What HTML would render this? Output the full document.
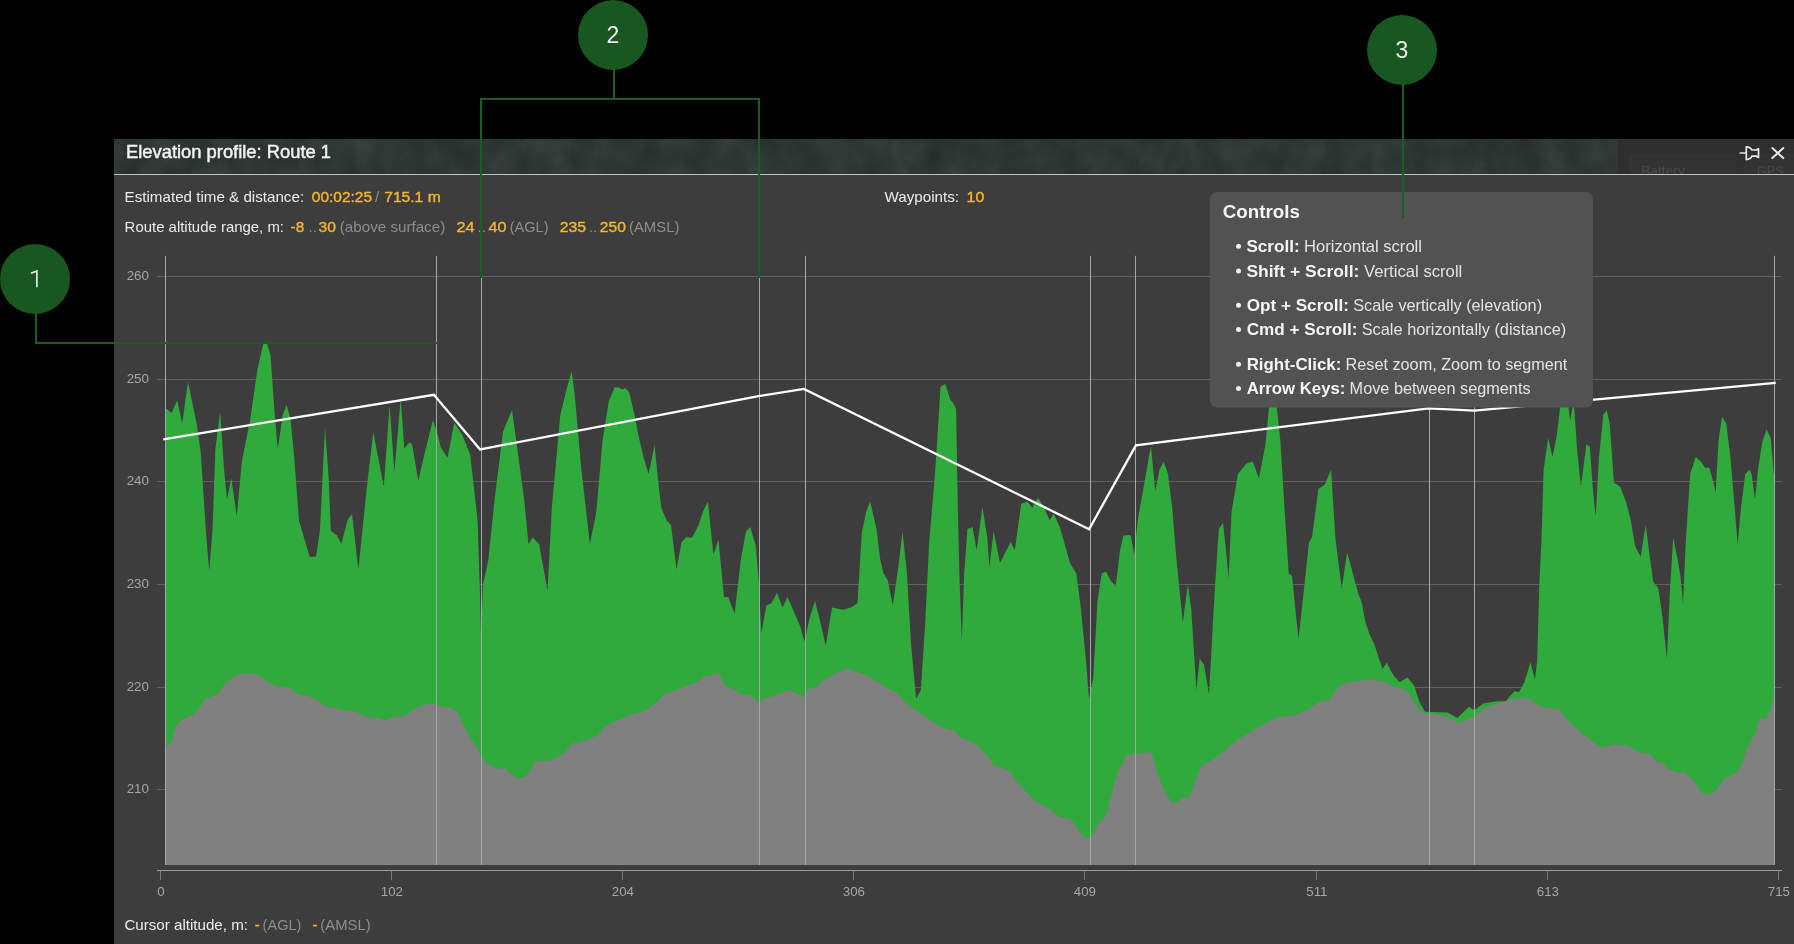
<!DOCTYPE html>
<html><head><meta charset="utf-8"><style>
html,body{margin:0;padding:0;background:#000;}
body{width:1794px;height:944px;overflow:hidden;position:relative;font-family:"Liberation Sans",sans-serif;}
svg{position:absolute;left:0;top:0;will-change:transform;}
</style></head><body>
<svg width="1794" height="944" viewBox="0 0 1794 944" font-family="Liberation Sans, sans-serif">
<defs>
<filter id="tex" x="0" y="0" width="100%" height="100%" color-interpolation-filters="sRGB">
<feTurbulence type="fractalNoise" baseFrequency="0.035 0.03" numOctaves="4" seed="11" result="n"/>
<feColorMatrix in="n" type="matrix" values="0 0 0 0.09 0.138  0 0 0 0.10 0.165  0 0 0 0.10 0.153  0 0 0 0 1"/>
</filter>
</defs>
<rect x="0" y="0" width="1794" height="944" fill="#000"/>
<rect x="114" y="139" width="1680" height="805" fill="#3d3d3d"/>
<rect x="114" y="139" width="1504" height="35" filter="url(#tex)"/>
<rect x="1618" y="139" width="176" height="35" fill="#2f2f2f"/>
<rect x="1629" y="153.5" width="107" height="30" rx="5" fill="#333333"/>
<rect x="1744.5" y="153.5" width="60" height="30" rx="5" fill="#333333"/>
<text x="1641.2" y="176" fill="#4a4a4a" font-size="15" textLength="43.6" lengthAdjust="spacingAndGlyphs">Battery</text>
<text x="1757.0" y="176" fill="#4a4a4a" font-size="15" textLength="26.8" lengthAdjust="spacingAndGlyphs">GPS</text>
<rect x="114" y="174" width="1680" height="770" fill="#3d3d3d"/>
<rect x="114" y="174" width="1680" height="1" fill="#b9c6cf"/>
<g stroke="#e8e8e8" stroke-width="1.7" fill="none" stroke-linecap="round" stroke-linejoin="round">
<path d="M1740.3,153 H1746.3 M1746.3,146.8 V159.6 M1746.3,146.8 Q1750.6,147 1751.8,150 H1756.4 L1758.5,148.6 V157.4 L1756.4,156.2 H1751.8 Q1750.6,159.4 1746.3,159.6"/>
<path d="M1772.3,148.1 L1783.3,158.1 M1783.3,148.1 L1772.3,158.1" stroke-width="2"/>
</g>
<line x1="157" y1="276.5" x2="1782" y2="276.5" stroke="#606060" stroke-width="1"/><line x1="157" y1="379.5" x2="1782" y2="379.5" stroke="#606060" stroke-width="1"/><line x1="157" y1="481.5" x2="1782" y2="481.5" stroke="#606060" stroke-width="1"/><line x1="157" y1="584.5" x2="1782" y2="584.5" stroke="#606060" stroke-width="1"/><line x1="157" y1="687.5" x2="1782" y2="687.5" stroke="#606060" stroke-width="1"/><line x1="157" y1="789.5" x2="1782" y2="789.5" stroke="#606060" stroke-width="1"/>
<polygon points="165.0,865.0 165.0,488.0 165.2,408.4 166.6,409.0 171.5,413.0 177.3,400.2 182.2,423.6 188.0,382.1 196.8,424.6 200.7,452.0 205.8,530.0 209.2,570.7 212.5,530.0 215.4,448.6 220.2,412.0 224.1,470.0 227.0,499.5 231.3,478.0 236.8,516.0 241.9,461.0 250.3,419.0 257.3,370.0 263.0,344.8 266.2,341.0 270.5,355.4 274.9,416.8 277.8,449.0 282.7,414.9 286.6,405.1 290.5,418.8 294.4,459.7 299.0,520.7 309.7,556.7 316.0,556.7 320.0,530.0 325.0,427.5 328.7,478.0 330.8,531.0 337.2,535.5 341.4,544.0 347.5,520.0 352.0,514.0 358.4,569.4 366.9,486.8 373.3,432.0 383.8,486.8 389.6,405.1 394.4,472.0 400.7,398.3 404.3,448.6 409.5,442.2 412.0,444.0 418.3,480.4 424.7,453.0 432.9,420.3 437.4,433.8 440.7,447.0 447.5,457.8 454.3,422.7 462.1,434.4 470.0,453.9 473.4,482.5 477.6,520.7 479.7,584.0 481.0,633.0 483.1,584.0 488.2,561.0 494.6,499.5 503.0,431.7 512.0,410.0 517.9,452.9 524.2,499.5 528.5,544.0 532.7,537.6 539.0,544.0 543.3,567.3 547.5,590.6 551.8,508.0 560.3,414.7 566.6,389.3 571.7,371.0 575.0,397.8 581.4,469.8 589.9,544.0 596.3,512.0 602.6,440.0 608.8,401.2 614.6,387.2 618.5,387.6 622.4,389.5 625.3,388.1 629.2,392.4 634.1,412.9 638.6,436.0 643.5,457.0 648.6,474.0 654.6,445.1 658.3,482.5 661.3,508.0 666.8,520.7 671.0,525.0 676.5,569.4 681.6,541.9 685.8,537.6 692.2,537.6 698.6,525.0 702.8,512.2 707.9,501.6 713.4,554.6 718.5,539.7 724.0,597.0 728.2,597.0 734.6,614.0 740.9,558.8 746.0,531.3 750.3,527.0 755.8,546.0 758.7,580.0 761.3,633.0 766.4,605.4 771.4,603.3 777.0,592.7 782.5,607.5 787.5,597.0 793.9,611.8 800.3,626.6 804.5,641.4 809.6,618.0 815.0,601.0 821.4,626.6 825.7,645.7 832.0,607.5 842.6,609.7 851.1,607.5 857.5,603.3 861.7,533.4 866.0,512.2 870.2,501.6 876.5,529.0 880.1,558.8 883.5,573.6 887.7,580.0 892.8,605.4 898.3,567.3 902.5,531.3 906.8,571.5 911.0,643.6 916.1,698.6 920.8,690.2 925.0,626.6 929.2,541.9 934.3,482.5 936.6,450.2 940.5,386.8 945.3,383.9 950.2,399.5 954.1,404.4 956.1,409.3 958.0,516.6 959.7,584.0 961.9,641.4 964.0,575.8 967.4,529.0 972.5,527.0 976.7,550.3 982.4,506.8 987.3,537.6 989.4,567.3 993.6,531.3 1000.0,563.0 1006.4,550.3 1010.6,541.9 1014.8,550.3 1021.2,503.7 1027.5,501.6 1032.2,507.8 1038.0,498.0 1042.9,504.9 1049.7,520.5 1053.6,513.6 1059.5,526.3 1063.6,540.0 1070.0,563.0 1076.3,573.6 1080.5,605.4 1086.0,660.5 1089.0,698.6 1093.2,677.5 1097.5,601.0 1101.7,573.6 1106.0,571.5 1110.2,580.0 1115.7,586.4 1120.0,550.3 1123.5,535.5 1129.7,535.1 1131.1,536.8 1134.0,554.6 1138.3,516.4 1143.3,489.2 1149.2,455.1 1151.0,446.5 1155.3,491.0 1159.5,469.8 1163.7,461.4 1168.0,474.0 1172.2,508.0 1176.4,558.8 1182.8,622.4 1187.9,584.2 1191.3,609.7 1196.4,690.2 1199.7,658.4 1204.0,664.7 1209.0,694.4 1214.6,592.7 1218.8,529.0 1223.0,522.8 1226.0,550.3 1228.6,577.9 1231.5,512.2 1237.9,474.0 1246.4,463.5 1252.7,461.4 1259.0,478.3 1265.4,444.4 1269.7,400.0 1276.0,400.0 1280.3,440.0 1284.5,508.0 1288.7,573.6 1292.1,575.8 1295.0,605.4 1298.5,639.3 1303.6,592.7 1309.0,541.9 1312.0,537.6 1318.4,489.0 1324.7,484.7 1331.1,469.8 1335.3,537.6 1341.7,588.5 1347.2,552.5 1352.3,571.5 1358.6,594.8 1361.4,601.2 1365.6,622.4 1369.8,635.0 1374.0,643.6 1378.3,656.3 1382.5,669.0 1386.8,662.6 1391.0,671.0 1394.0,676.0 1399.6,682.3 1407.4,677.4 1414.1,685.6 1419.6,702.4 1425.2,711.7 1447.5,712.4 1457.5,718.0 1468.7,706.8 1474.3,710.2 1483.2,703.5 1496.6,701.2 1505.5,701.2 1514.4,691.2 1518.9,692.3 1524.4,682.3 1530.5,662.2 1534.9,679.6 1537.2,660.5 1539.3,584.2 1541.4,541.9 1543.6,469.8 1548.2,438.0 1552.5,457.0 1556.7,436.0 1561.0,400.0 1567.3,400.0 1570.3,421.0 1573.7,400.0 1577.0,448.6 1580.9,486.8 1586.4,444.4 1589.8,446.5 1592.7,486.8 1595.7,516.4 1599.0,457.0 1603.3,414.7 1606.7,410.5 1609.7,423.2 1613.9,482.5 1620.3,486.8 1626.6,503.7 1630.9,520.7 1635.1,546.0 1640.6,556.7 1645.7,525.0 1650.0,558.8 1653.3,582.0 1658.4,588.5 1662.6,618.0 1666.9,658.4 1669.8,592.7 1673.2,537.6 1677.5,558.8 1680.4,575.8 1683.0,603.3 1686.0,537.6 1690.2,474.0 1695.7,457.0 1700.8,461.4 1705.0,467.7 1709.3,467.7 1713.5,482.5 1715.6,493.0 1718.6,440.0 1722.0,416.9 1726.2,423.2 1730.4,457.0 1734.7,508.0 1737.6,544.0 1741.0,508.0 1745.3,474.0 1749.5,469.8 1751.6,474.0 1755.0,499.5 1758.0,469.8 1762.2,442.3 1766.5,429.6 1770.7,438.0 1773.7,474.0 1774.5,474.0 1774.5,865.0" fill="#30aa3c"/>
<polygon points="165.0,865.0 165.0,747.0 170.6,743.6 174.0,733.6 177.3,723.5 184.0,719.0 188.4,716.2 192.9,715.7 199.6,708.0 204.0,700.0 213.0,695.7 218.5,693.4 224.1,684.5 230.8,679.0 238.6,673.4 254.2,673.4 262.0,677.4 269.8,683.4 279.9,686.8 289.9,687.9 296.6,693.4 306.6,696.0 316.6,699.0 325.6,706.8 335.6,708.0 342.3,710.2 351.2,710.8 360.1,713.5 368.0,717.5 379.0,718.0 385.8,720.6 394.7,716.2 400.3,716.9 410.3,712.4 418.1,706.8 425.9,704.6 434.8,703.5 442.6,707.3 451.5,708.0 458.2,713.5 463.8,725.8 469.4,736.9 476.1,745.8 481.6,758.0 487.2,763.7 492.8,765.9 498.4,769.3 505.0,768.1 510.6,773.7 517.3,778.6 525.1,777.0 529.6,771.5 534.0,762.6 538.5,761.0 549.6,760.8 555.0,758.1 565.0,752.5 571.7,743.6 579.5,742.0 587.3,739.8 597.4,735.4 605.2,726.4 613.0,722.0 621.9,718.4 631.9,714.2 643.1,711.7 653.1,705.7 664.3,694.6 676.5,690.1 687.7,685.6 697.7,682.3 703.3,676.7 711.1,675.6 718.9,672.9 724.5,685.6 733.4,689.0 741.2,694.6 750.1,694.6 758.3,702.4 764.6,698.3 771.3,696.8 778.0,693.9 789.1,690.1 803.6,696.8 809.2,688.5 814.8,687.9 822.6,681.2 831.5,676.0 840.4,671.1 847.1,668.5 853.8,671.1 862.7,673.8 873.8,679.6 887.2,688.5 896.1,692.3 905.0,701.9 916.2,710.8 931.8,721.3 943.0,728.0 955.0,730.9 961.7,738.0 968.4,740.7 976.2,744.3 984.0,752.5 989.6,758.1 994.0,765.9 1001.8,767.0 1010.7,772.6 1016.3,781.5 1024.1,789.3 1033.0,799.4 1042.0,804.9 1050.9,809.8 1059.8,817.2 1069.8,818.3 1075.4,825.0 1081.0,833.9 1086.5,838.4 1093.2,835.0 1098.8,821.6 1103.3,820.1 1107.7,811.6 1113.3,787.1 1116.7,775.9 1126.7,754.8 1142.3,753.2 1151.2,751.9 1156.8,771.5 1163.5,789.3 1172.4,803.8 1178.0,801.6 1182.4,797.8 1189.1,797.8 1194.7,782.6 1201.4,765.9 1209.2,761.4 1222.6,752.5 1238.2,739.2 1251.5,731.3 1264.9,723.5 1276.1,717.5 1291.7,715.7 1305.0,711.3 1318.4,702.4 1329.6,699.7 1338.5,686.3 1347.4,682.7 1355.0,681.2 1372.0,679.6 1384.7,681.7 1394.0,686.8 1402.9,689.0 1408.5,692.3 1414.1,702.4 1419.6,710.2 1427.4,713.5 1440.8,714.6 1449.7,718.0 1458.7,723.1 1467.6,719.1 1474.3,716.9 1485.4,707.3 1498.8,703.5 1514.4,698.3 1527.8,698.3 1541.2,707.3 1559.0,709.5 1567.9,720.2 1576.8,729.1 1588.0,738.0 1601.4,747.4 1614.7,744.3 1628.1,745.8 1637.0,751.4 1650.4,754.1 1657.1,762.6 1661.6,762.1 1668.2,768.8 1677.2,772.6 1683.9,771.9 1693.9,780.4 1701.7,792.7 1708.4,794.9 1715.1,791.5 1724.0,779.3 1735.1,773.7 1741.8,764.8 1748.5,744.7 1755.2,733.6 1759.7,718.0 1766.3,719.1 1770.8,709.0 1774.5,695.7 1774.5,865.0" fill="#808080"/>
<line x1="165.5" y1="255.8" x2="165.5" y2="865" stroke="#a1a9ac" stroke-width="1"/><line x1="436.5" y1="255.8" x2="436.5" y2="865" stroke="#a1a9ac" stroke-width="1"/><line x1="481.5" y1="255.8" x2="481.5" y2="865" stroke="#a1a9ac" stroke-width="1"/><line x1="759.5" y1="255.8" x2="759.5" y2="865" stroke="#a1a9ac" stroke-width="1"/><line x1="805.5" y1="255.8" x2="805.5" y2="865" stroke="#a1a9ac" stroke-width="1"/><line x1="1090.5" y1="255.8" x2="1090.5" y2="865" stroke="#a1a9ac" stroke-width="1"/><line x1="1135.5" y1="255.8" x2="1135.5" y2="865" stroke="#a1a9ac" stroke-width="1"/><line x1="1429.5" y1="255.8" x2="1429.5" y2="865" stroke="#a1a9ac" stroke-width="1"/><line x1="1474.5" y1="255.8" x2="1474.5" y2="865" stroke="#a1a9ac" stroke-width="1"/><line x1="1774.5" y1="255.8" x2="1774.5" y2="865" stroke="#a1a9ac" stroke-width="1"/>
<polyline points="163.3,439.3 433.9,394.8 480.1,449.4 758.5,396.2 803.9,388.9 1089.1,529.2 1135.9,445.4 1428.5,408.3 1474.3,410.6 1775.7,382.9" fill="none" stroke="#ffffff" stroke-width="2.3" stroke-linejoin="miter"/>
<line x1="157" y1="870.5" x2="1782" y2="870.5" stroke="#9c9c9c" stroke-width="1"/>
<line x1="160.5" y1="870.5" x2="160.5" y2="879.8" stroke="#7c7c7c" stroke-width="1"/><line x1="391.5" y1="870.5" x2="391.5" y2="879.8" stroke="#7c7c7c" stroke-width="1"/><line x1="622.5" y1="870.5" x2="622.5" y2="879.8" stroke="#7c7c7c" stroke-width="1"/><line x1="853.5" y1="870.5" x2="853.5" y2="879.8" stroke="#7c7c7c" stroke-width="1"/><line x1="1084.5" y1="870.5" x2="1084.5" y2="879.8" stroke="#7c7c7c" stroke-width="1"/><line x1="1316.5" y1="870.5" x2="1316.5" y2="879.8" stroke="#7c7c7c" stroke-width="1"/><line x1="1547.5" y1="870.5" x2="1547.5" y2="879.8" stroke="#7c7c7c" stroke-width="1"/><line x1="1778.5" y1="870.5" x2="1778.5" y2="879.8" stroke="#7c7c7c" stroke-width="1"/>
<rect x="1210" y="192" width="383" height="215.5" rx="7" fill="#525252"/>
<text x="1222.8" y="218.1" fill="#f6f6f6" font-size="18" font-weight="700" textLength="77.2" lengthAdjust="spacingAndGlyphs">Controls</text><circle cx="1238.5" cy="246.2" r="2.5" fill="#eeeeee"/><text x="1246.4" y="252.0" fill="#f6f6f6" font-size="16.5" font-weight="700" textLength="53.2" lengthAdjust="spacingAndGlyphs">Scroll:</text><text x="1304.0" y="252.0" fill="#e4e4e4" font-size="16.5" textLength="118.0" lengthAdjust="spacingAndGlyphs">Horizontal scroll</text><circle cx="1238.5" cy="270.9" r="2.5" fill="#eeeeee"/><text x="1246.4" y="276.7" fill="#f6f6f6" font-size="16.5" font-weight="700" textLength="113.0" lengthAdjust="spacingAndGlyphs">Shift + Scroll:</text><text x="1364.1" y="276.7" fill="#e4e4e4" font-size="16.5" textLength="98.2" lengthAdjust="spacingAndGlyphs">Vertical scroll</text><circle cx="1238.5" cy="305.3" r="2.5" fill="#eeeeee"/><text x="1246.7" y="311.1" fill="#f6f6f6" font-size="16.5" font-weight="700" textLength="102.3" lengthAdjust="spacingAndGlyphs">Opt + Scroll:</text><text x="1353.2" y="311.1" fill="#e4e4e4" font-size="16.5" textLength="188.9" lengthAdjust="spacingAndGlyphs">Scale vertically (elevation)</text><circle cx="1238.5" cy="329.4" r="2.5" fill="#eeeeee"/><text x="1246.7" y="335.2" fill="#f6f6f6" font-size="16.5" font-weight="700" textLength="110.8" lengthAdjust="spacingAndGlyphs">Cmd + Scroll:</text><text x="1361.7" y="335.2" fill="#e4e4e4" font-size="16.5" textLength="204.5" lengthAdjust="spacingAndGlyphs">Scale horizontally (distance)</text><circle cx="1238.5" cy="364.3" r="2.5" fill="#eeeeee"/><text x="1246.7" y="370.1" fill="#f6f6f6" font-size="16.5" font-weight="700" textLength="94.7" lengthAdjust="spacingAndGlyphs">Right-Click:</text><text x="1345.6" y="370.1" fill="#e4e4e4" font-size="16.5" textLength="221.8" lengthAdjust="spacingAndGlyphs">Reset zoom, Zoom to segment</text><circle cx="1238.5" cy="388.4" r="2.5" fill="#eeeeee"/><text x="1246.7" y="394.2" fill="#f6f6f6" font-size="16.5" font-weight="700" textLength="98.7" lengthAdjust="spacingAndGlyphs">Arrow Keys:</text><text x="1349.6" y="394.2" fill="#e4e4e4" font-size="16.5" textLength="181.0" lengthAdjust="spacingAndGlyphs">Move between segments</text>
<text stroke="#f4f4f4" stroke-width="0.45" x="126.0" y="158.4" fill="#f4f4f4" font-size="18.2" textLength="205.0" lengthAdjust="spacingAndGlyphs">Elevation profile: Route 1</text><text x="124.6" y="202.4" fill="#ececec" font-size="15" textLength="179.5" lengthAdjust="spacingAndGlyphs">Estimated time &amp; distance:</text><text x="311.8" y="202.4" fill="#f3b62d" font-size="15" stroke="#f3b62d" stroke-width="0.4" textLength="60.2" lengthAdjust="spacingAndGlyphs">00:02:25</text><text x="375.0" y="202.4" fill="#8e8e8e" font-size="15">/</text><text x="384.2" y="202.4" fill="#f3b62d" font-size="15" stroke="#f3b62d" stroke-width="0.4" textLength="56.5" lengthAdjust="spacingAndGlyphs">715.1 m</text><text x="884.6" y="202.4" fill="#ececec" font-size="15" textLength="74.4" lengthAdjust="spacingAndGlyphs">Waypoints:</text><text x="966.6" y="202.4" fill="#f3b62d" font-size="15" stroke="#f3b62d" stroke-width="0.4" textLength="17.6" lengthAdjust="spacingAndGlyphs">10</text><text x="124.6" y="232.1" fill="#ececec" font-size="15" textLength="159.4" lengthAdjust="spacingAndGlyphs">Route altitude range, m:</text><text x="290.6" y="232.1" fill="#f3b62d" font-size="15" stroke="#f3b62d" stroke-width="0.4" textLength="13.6" lengthAdjust="spacingAndGlyphs">-8</text><text x="308.6" y="232.1" fill="#8e8e8e" font-size="15">..</text><text x="318.5" y="232.1" fill="#f3b62d" font-size="15" stroke="#f3b62d" stroke-width="0.4" textLength="17.4" lengthAdjust="spacingAndGlyphs">30</text><text x="339.8" y="232.1" fill="#8e8e8e" font-size="15" textLength="105.4" lengthAdjust="spacingAndGlyphs">(above surface)</text><text x="456.5" y="232.1" fill="#f3b62d" font-size="15" stroke="#f3b62d" stroke-width="0.4" textLength="18.2" lengthAdjust="spacingAndGlyphs">24</text><text x="477.6" y="232.1" fill="#8e8e8e" font-size="15">..</text><text x="488.4" y="232.1" fill="#f3b62d" font-size="15" stroke="#f3b62d" stroke-width="0.4" textLength="18.0" lengthAdjust="spacingAndGlyphs">40</text><text x="509.7" y="232.1" fill="#8e8e8e" font-size="15" textLength="38.8" lengthAdjust="spacingAndGlyphs">(AGL)</text><text x="559.7" y="232.1" fill="#f3b62d" font-size="15" stroke="#f3b62d" stroke-width="0.4" textLength="26.4" lengthAdjust="spacingAndGlyphs">235</text><text x="588.9" y="232.1" fill="#8e8e8e" font-size="15">..</text><text x="599.8" y="232.1" fill="#f3b62d" font-size="15" stroke="#f3b62d" stroke-width="0.4" textLength="26.0" lengthAdjust="spacingAndGlyphs">250</text><text x="629.0" y="232.1" fill="#8e8e8e" font-size="15" textLength="50.4" lengthAdjust="spacingAndGlyphs">(AMSL)</text><text x="124.4" y="930.0" fill="#ececec" font-size="15" textLength="123.6" lengthAdjust="spacingAndGlyphs">Cursor altitude, m:</text><text x="254.8" y="930.0" fill="#f3b62d" font-size="15" stroke="#f3b62d" stroke-width="0.4">-</text><text x="262.6" y="930.0" fill="#8e8e8e" font-size="15" textLength="38.8" lengthAdjust="spacingAndGlyphs">(AGL)</text><text x="312.5" y="930.0" fill="#f3b62d" font-size="15" stroke="#f3b62d" stroke-width="0.4">-</text><text x="320.3" y="930.0" fill="#8e8e8e" font-size="15" textLength="50.4" lengthAdjust="spacingAndGlyphs">(AMSL)</text><text x="149.0" y="280.4" fill="#a6a6a6" font-size="13.4" text-anchor="end">260</text><text x="149.0" y="383.4" fill="#a6a6a6" font-size="13.4" text-anchor="end">250</text><text x="149.0" y="485.4" fill="#a6a6a6" font-size="13.4" text-anchor="end">240</text><text x="149.0" y="588.4" fill="#a6a6a6" font-size="13.4" text-anchor="end">230</text><text x="149.0" y="691.4" fill="#a6a6a6" font-size="13.4" text-anchor="end">220</text><text x="149.0" y="793.4" fill="#a6a6a6" font-size="13.4" text-anchor="end">210</text><text x="160.9" y="896.2" fill="#a6a6a6" font-size="13.3" text-anchor="middle">0</text><text x="391.9" y="896.2" fill="#a6a6a6" font-size="13.3" text-anchor="middle">102</text><text x="622.9" y="896.2" fill="#a6a6a6" font-size="13.3" text-anchor="middle">204</text><text x="853.9" y="896.2" fill="#a6a6a6" font-size="13.3" text-anchor="middle">306</text><text x="1084.9" y="896.2" fill="#a6a6a6" font-size="13.3" text-anchor="middle">409</text><text x="1316.9" y="896.2" fill="#a6a6a6" font-size="13.3" text-anchor="middle">511</text><text x="1547.9" y="896.2" fill="#a6a6a6" font-size="13.3" text-anchor="middle">613</text><text x="1778.9" y="896.2" fill="#a6a6a6" font-size="13.3" text-anchor="middle">715</text>

<circle cx="35" cy="279" r="35" fill="#195720"/>
<circle cx="613" cy="35" r="35" fill="#195720"/>
<circle cx="1402" cy="50" r="35" fill="#195720"/>
<polyline points="36,313 36,343 437,343" fill="none" stroke="#1a5e21" stroke-width="2"/>
<line x1="614" y1="69" x2="614" y2="99" stroke="#1a5e21" stroke-width="2"/>
<polyline points="481,278 481,99 759,99 759,278" fill="none" stroke="#1a5e21" stroke-width="2"/>
<line x1="1403" y1="84" x2="1403" y2="218" stroke="#1a5e21" stroke-width="2"/>
<path d="M36.9,287.2 V270.9 L31,273.3" fill="none" stroke="#f0f0f0" stroke-width="1.6" stroke-linejoin="miter"/>
<text x="613" y="43.3" fill="#f0f0f0" font-size="23" text-anchor="middle" font-family="Liberation Sans, sans-serif">2</text>
<text x="1402" y="58" fill="#f0f0f0" font-size="23" text-anchor="middle" font-family="Liberation Sans, sans-serif">3</text>

</svg>
</body></html>
